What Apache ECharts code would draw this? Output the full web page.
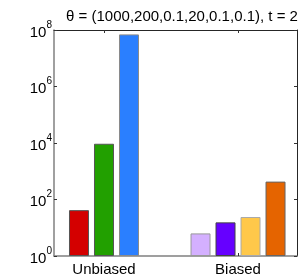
<!DOCTYPE html>
<html>
<head>
<meta charset="utf-8">
<script src="https://cdn.jsdelivr.net/npm/echarts@6/dist/echarts.min.js"></script>
<style>html,body{margin:0;padding:0;background:#fff}#c{width:300px;height:277px}</style>
</head>
<body>
<div id="c"></div>
<script>
var titleText = 'θ = (1000,200,0.1,20,0.1,0.1), t = 2';
var categories = ['Unbiased', 'Biased'];
var yTicks = [1, 100, 10000, 1000000, 100000000];
var unbiasedValues = [42, 9400, 70000000];
var unbiasedColors = ['#d40000', '#22a000', '#2a7fff'];
var unbiasedBorders = ['#555555', '#555555', '#8a8a8a'];
var biasedValues = [6.3, 15.5, 24, 430];
var biasedColors = ['#d4b0ff', '#6600ff', '#ffc84a', '#e56400'];
var biasedBorders = ['#999999', '#444444', '#aaaaaa', '#666666'];

var FONT = 'Liberation Sans, Arial, sans-serif';
var series = [];
unbiasedValues.forEach(function (v, i) {
  series.push({
    type: 'bar', xAxisIndex: 0, yAxisIndex: 0,
    data: [[1, v]], barWidth: 20, barGap: '25%',
    itemStyle: { color: unbiasedColors[i], borderColor: unbiasedBorders[i], borderWidth: 1 },
    silent: true
  });
});
biasedValues.forEach(function (v, i) {
  series.push({
    type: 'bar', xAxisIndex: 1, yAxisIndex: 0,
    data: [[2, v]], barWidth: 20, barGap: '25%',
    itemStyle: { color: biasedColors[i], borderColor: biasedBorders[i], borderWidth: 1 },
    silent: true
  });
});

var xMin = 0.627, xMax = 2.44;
var chart = echarts.init(document.getElementById('c'), null, { renderer: 'canvas' });
chart.setOption({
  animation: false,
  backgroundColor: '#fff',
  title: {
    text: titleText, left: 177, top: 4, textAlign: 'center',
    textStyle: { fontFamily: FONT, fontSize: 15, fontWeight: 'normal', color: '#000' }
  },
  grid: { left: 54, right: 3, top: 30, bottom: 21, containLabel: false },
  xAxis: [
    {
      type: 'value', position: 'bottom', min: xMin, max: xMax,
      splitLine: { show: false },
      axisLine: { show: true, onZero: false, lineStyle: { color: '#808080', width: 1.5 } },
      axisTick: { show: true, inside: true, length: 3, customValues: [1, 2], lineStyle: { color: '#333' } },
      axisLabel: {
        show: true, customValues: [1, 2], margin: 6,
        fontFamily: FONT, fontSize: 15, color: '#000',
        formatter: function (v) { return categories[Math.round(v) - 1] || ''; }
      }
    },
    {
      type: 'value', position: 'top', min: xMin, max: xMax,
      splitLine: { show: false },
      axisLine: { show: true, onZero: false, lineStyle: { color: '#262626', width: 1 } },
      axisTick: { show: true, inside: true, length: 3, customValues: [1, 2], lineStyle: { color: '#333' } },
      axisLabel: { show: false }
    }
  ],
  yAxis: [
    {
      type: 'log', logBase: 10, min: 1, max: 100000000, position: 'left',
      splitLine: { show: false },
      axisLine: { show: true, onZero: false, lineStyle: { color: '#808080', width: 1.5 } },
      axisTick: { show: true, inside: true, length: 3, customValues: yTicks, lineStyle: { color: '#333' } },
      minorTick: { show: false },
      axisLabel: {
        show: true, customValues: yTicks, margin: 2,
        formatter: function (v) {
          var e = Math.round(Math.log10(v));
          return '{b|10}{s|' + e + '}';
        },
        rich: {
          b: { fontFamily: FONT, fontSize: 15, color: '#000', lineHeight: 20, verticalAlign: 'bottom' },
          s: { fontFamily: FONT, fontSize: 10, color: '#000', lineHeight: 20, verticalAlign: 'top' }
        }
      }
    },
    {
      type: 'log', logBase: 10, min: 1, max: 100000000, position: 'right',
      splitLine: { show: false },
      axisLine: { show: true, onZero: false, lineStyle: { color: '#262626', width: 1 } },
      axisTick: { show: true, inside: true, length: 3, customValues: yTicks, lineStyle: { color: '#333' } },
      axisLabel: { show: false }
    }
  ],
  series: series
});
</script>
</body>
</html>
